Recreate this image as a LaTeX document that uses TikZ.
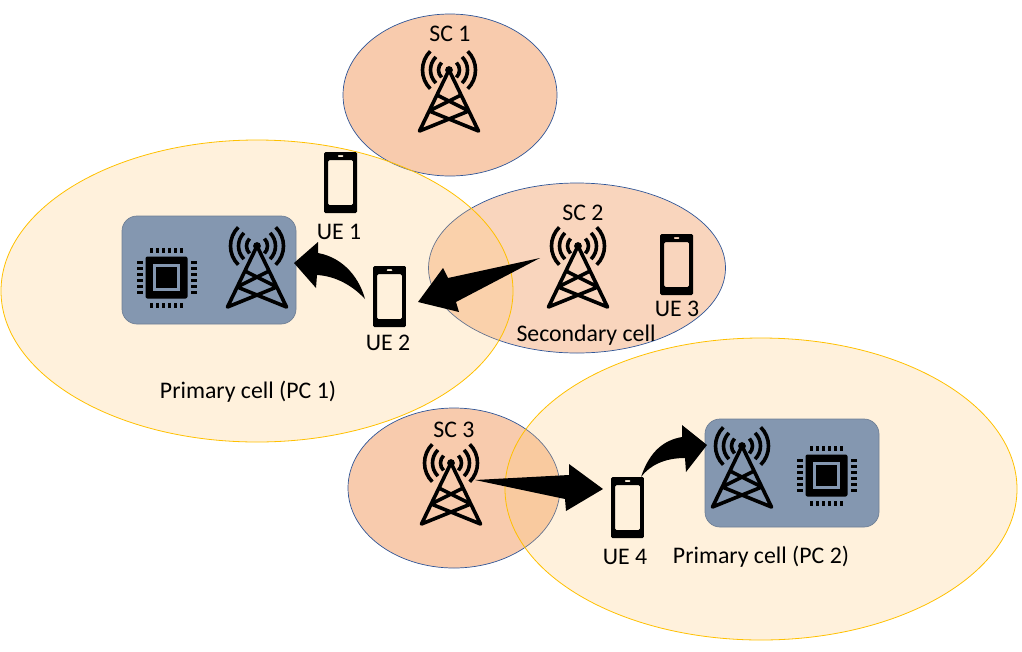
\documentclass[tikz,border=0pt]{standalone}
\usepackage{fontspec}
\usetikzlibrary{shapes.geometric}
\setmainfont{Carlito}
\definecolor{scfill}{HTML}{F8CBAD}
\definecolor{scfilllight}{HTML}{F9D5BD}
\definecolor{scline}{HTML}{2F5597}
\definecolor{pcfill}{HTML}{FFC978}
\definecolor{pcline}{HTML}{FFC000}
\definecolor{boxfill}{HTML}{8497B0}
\tikzset{
  sccell/.style={ellipse, draw=scline, line width=0.7pt, fill=#1, inner sep=0pt},
  pccell/.style={ellipse, draw=pcline, line width=0.8pt, fill=pcfill, fill opacity=0.26, inner sep=0pt,
    minimum width=512pt, minimum height=302pt},
  basebox/.style={draw=boxfill!85!black, line width=0.7pt, fill=boxfill, rounded corners=15pt,
    minimum width=174pt, minimum height=108pt, inner sep=0pt},
  celltext/.style={font=\fontsize{23.8pt}{26pt}\selectfont, text=black, inner sep=0pt},
  phonebox/.style={minimum width=33pt, minimum height=61pt, inner sep=0pt, rounded corners=1.5pt,
    path picture={
      \fill[black, even odd rule, shift={(path picture bounding box.center)}]
        (-17,-31) rectangle (17,31)
        (-12.5,-22.5) rectangle (12.5,22.5)
        (-3.5,-27.5) rectangle (3.5,-25.5);
    }},
  pics/tower/.style={code={
    \fill circle (3.9pt);
    \foreach \r in {10.5,18.5,26.5} {
      \draw[line width=3.6pt] (135:\r) arc[start angle=135, end angle=225, radius=\r];
      \draw[line width=3.6pt] (45:\r) arc[start angle=45, end angle=-45, radius=\r];
    }
    \draw[line width=3.6pt, line cap=round, line join=round]
      (-29.5,61) -- (0,0) -- (29.5,61)
      (-12,25) -- (19.8,41) (12,25) -- (-19.8,41)
      (-19.8,41) -- (29.5,61) (19.8,41) -- (-29.5,61);
  }},
  pics/chip/.style={code={
    \fill[rounded corners=2pt] (-21,-21) rectangle (21,21);
    \draw[boxfill, line width=3pt] (-11.7,-11.7) rectangle (11.7,11.7);
    \foreach \p in {-15,-9,...,15} {
      \fill (\p-1.6,-30) rectangle (\p+1.6,-25);
      \fill (\p-1.6,25) rectangle (\p+1.6,30);
      \fill (-30,\p-1.6) rectangle (-24,\p+1.6);
      \fill (24,\p-1.6) rectangle (30,\p+1.6);
    }
  }}
}
\begin{document}
\begin{tikzpicture}[x=1pt, y=-1pt]
    \useasboundingbox (0,0) rectangle (1022,651);

    \node[sccell=scfill, minimum width=214pt, minimum height=162pt] (sc1) at (450,95) {};
    \node[sccell=scfilllight, minimum width=297pt, minimum height=170pt] (sc2) at (577,268) {};
    \node[sccell=scfill, minimum width=212pt, minimum height=160pt] (sc3) at (454,488) {};
    \node[pccell] (pc1) at (257,291) {};
    \node[pccell] (pc2) at (761,489) {};

    \node[basebox] (base1) at (209,270) {};
    \node[basebox] (base2) at (792,473) {};

    \pic at (449,70) {tower};
    \pic at (578,246) {tower};
    \pic at (451,463) {tower};
    \pic at (257,246) {tower};
    \pic at (742,446) {tower};
    \pic at (166.5,277.5) {chip};
    \pic at (826.5,475.5) {chip};

    \node[phonebox] (ue1) at (340.5,182.5) {};
    \node[phonebox] (ue2) at (389.5,296.5) {};
    \node[phonebox] (ue3) at (676.5,264.5) {};
    \node[phonebox] (ue4) at (627.5,507.5) {};

    \node[celltext] (sc1label) at (450,34) {SC 1};
    \node[celltext] (sc2label) at (583,213) {SC 2};
    \node[celltext] (sc3label) at (454,430) {SC 3};
    \node[celltext] (ue1label) at (339,232) {UE 1};
    \node[celltext] (ue2label) at (388,343) {UE 2};
    \node[celltext] (ue3label) at (677,309) {UE 3};
    \node[celltext] (ue4label) at (625,557) {UE 4};
    \node[celltext] (seclabel) at (586,335) {Secondary cell};
    \node[celltext] (pc1label) at (248,392) {Primary cell (PC 1)};
    \node[celltext] (pc2label) at (761,557) {Primary cell (PC 2)};

    \coordinate (sc2out) at (540,258);
    \coordinate (ue2in) at (418,302);
    \coordinate (ue2out) at (365,299);
    \coordinate (base1in) at (294,263);
    \coordinate (sc3out) at (475,480);
    \coordinate (ue4in) at (603,489);
    \coordinate (ue4out) at (641,477);
    \coordinate (base2in) at (707,445);

    \fill (sc2out) -- (448,278) -- (443,268) -- (ue2in) -- (459,312) -- (456,302) -- cycle;
    \fill (ue2out) .. controls (360,280) and (345,258) .. (318,253) -- (318,242) -- (base1in)
      -- (316,288) -- (317,275) .. controls (335,276) and (352,285) .. (ue2out);
    \fill (sc3out) -- (569,475) -- (569,464) -- (ue4in) -- (566,511) -- (565,499) -- cycle;
    \fill (ue4out) .. controls (650,450) and (665,440) .. (682,437) -- (682,425) -- (base2in)
      -- (686,472) -- (685,458) .. controls (665,458) and (650,465) .. (ue4out);
  \end{tikzpicture}
\end{document}
